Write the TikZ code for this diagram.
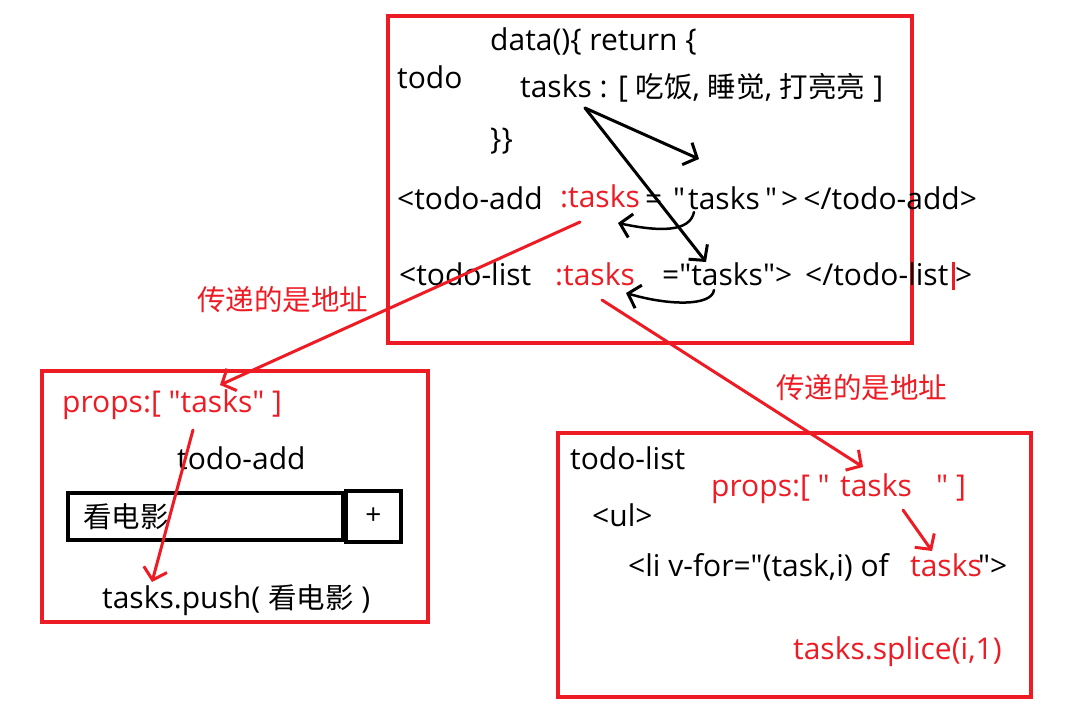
\documentclass[tikz,border=0pt]{standalone}
\usepackage{fontspec}
\newfontfamily\nf{Noto Sans CJK SC}
\newfontfamily\lf{Open Sans}
\newcommand{\zh}[1]{{\nf\fontsize{28.5}{32}\selectfont #1}}
\usetikzlibrary{arrows.meta}
\definecolor{pred}{RGB}{237,28,36}
\begin{document}
\begin{tikzpicture}[x=1pt,y=-1pt,
  txt/.style={anchor=base west,inner sep=0pt,font=\lf\fontsize{30}{34}\selectfont},
  rtxt/.style={txt,text=pred},
  frame/.style={draw=pred,line width=4pt,inner sep=0pt},
  bbox/.style={draw=black,line width=4pt,inner sep=0pt},
  barb/.style={line width=3pt,line cap=round,-{Straight Barb[length=11pt,width=24pt,line width=3pt]}},
  rbarb/.style={barb,draw=pred}]
\useasboundingbox (0,0) rectangle (1081,727);
% frames
\node[frame,minimum width=524pt,minimum height=327pt] (top) at (650,179.5) {};
\node[frame,minimum width=386pt,minimum height=251pt] (add) at (235,496.5) {};
\node[frame,minimum width=473pt,minimum height=264pt] (list) at (794.5,565) {};
% top box text
\node[txt] (todo) at (397,89) {todo};
\node[txt] (data) at (490,51) {data()\{ return \{};
\node[txt] (tasks) at (520,98) {tasks : [ \zh{吃饭}, \zh{睡觉}, \zh{打亮亮} ]};
\node[txt] (close) at (490,150) {\}\}};
\node[txt] (addtag) at (397,210) {<todo-add};
\node[rtxt] (addprop) at (560,208) {:tasks};
\node[txt] (addeq) at (645,210) {=};
\node[txt] (addq1) at (673,210) {"};
\node[txt] (addval) at (688,210) {tasks};
\node[txt] (addq2) at (765,210) {"};
\node[txt] (addend) at (781,210) {>\,</todo-add>};
\node[txt] (listtag) at (399,285) {<todo-list};
\node[rtxt] (listprop) at (555,285) {:tasks};
\node[txt] (listrest) at (662,285) {="tasks">};
\node[txt] (listend) at (805,285) {</todo-list};
\node[txt] (listgt) at (955,285) {>};
\coordinate (barT) at (953,262);
\coordinate (barB) at (953,290);
\draw[pred,line width=3pt] (barT) -- (barB);
% black arrows
\coordinate (src) at (585,108);
\coordinate (t1) at (699,159);
\coordinate (t2) at (706,262);
\draw[barb] (src) -- (t1);
\draw[barb] (src) -- (t2);
\coordinate (c1s) at (694,212);
\coordinate (c1e) at (618,223);
\draw[barb,line width=2.5pt] (c1s) .. controls (690,232) and (660,232) .. (c1e);
\coordinate (c2s) at (714,290);
\coordinate (c2e) at (626,293);
\draw[barb,line width=2.5pt] (c2s) .. controls (712,306) and (670,306) .. (c2e);
% red labels
\node[rtxt] (lab1) at (197,310) {\zh{传递的是地址}};
\node[rtxt] (lab2) at (776,398) {\zh{传递的是地址}};
% left box
\node[rtxt] (props1) at (62,412) {props:[ "tasks" ]};
\node[txt] (addname) at (177,469) {todo-add};
\node[bbox,minimum width=275pt,minimum height=47pt] (input) at (205.5,516.5) {};
\node[txt] (inputtxt) at (83,527) {\zh{看电影}};
\node[bbox,minimum width=55pt,minimum height=51pt] (plus) at (373.5,516.5) {};
\node[inner sep=0pt,font=\lf\fontsize{28}{32}\selectfont] (plussign) at (373.5,516) {+};
\node[txt] (push) at (102,608) {tasks.push( \zh{看电影} )};
% right box
\node[txt] (listname) at (570,469) {todo-list};
\node[rtxt] (props2a) at (711,496) {props:[ "};
\node[rtxt] (props2b) at (840,496) {tasks};
\node[rtxt] (props2c) at (936,496) {" ]};
\node[txt] (ul) at (592,526) {<ul>};
\node[txt] (li) at (628,576) {<li v-for="(task,i) of};
\node[rtxt] (lit) at (910,576) {tasks};
\node[txt] (liend) at (978,576) {">};
\node[rtxt] (splice) at (793,659) {tasks.splice(i,1)};
% red arrows
\coordinate (r1s) at (580,222);
\coordinate (r1e) at (220,385);
\draw[rbarb] (r1s) -- (r1e);
\coordinate (r2s) at (602,300);
\coordinate (r2e) at (863,467);
\draw[rbarb] (r2s) -- (r2e);
\coordinate (r3s) at (193,430);
\coordinate (r3e) at (152,582);
\draw[rbarb] (r3s) -- (r3e);
\coordinate (r4s) at (903,510);
\coordinate (r4e) at (932,551);
\draw[rbarb] (r4s) -- (r4e);
\end{tikzpicture}
\end{document}
